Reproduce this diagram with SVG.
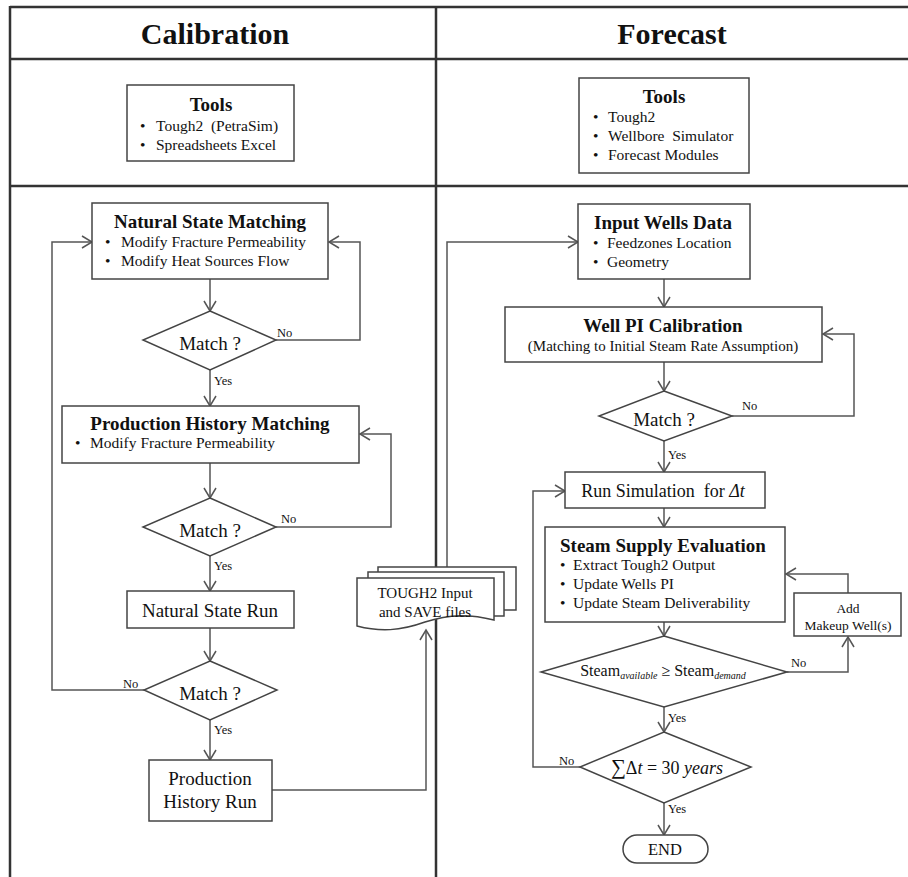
<svg xmlns="http://www.w3.org/2000/svg" width="908" height="877" viewBox="0 0 908 877">
<style>
text{font-family:"Liberation Serif","Times New Roman",serif;fill:#111;}
.ttl{font-size:30px;font-weight:bold;text-anchor:middle;}
.hd{font-size:19px;font-weight:bold;text-anchor:middle;}
.it{font-size:15.5px;}
.md{font-size:19px;text-anchor:middle;}
.sm{font-size:15px;text-anchor:middle;}
.lb{font-size:12.5px;}
.box{fill:#fff;stroke:#444;stroke-width:1.5;}
.frame{stroke:#333;stroke-width:2.5;fill:none;}
.con{fill:none;stroke:#555;stroke-width:1.5;}
.arr{fill:none;stroke:#555;stroke-width:1.5;marker-end:url(#ah);}
</style>
<defs>
<marker id="ah" markerUnits="userSpaceOnUse" markerWidth="14" markerHeight="14" refX="11" refY="7" orient="auto">
<path d="M1,1 L11,7 L1,13" fill="none" stroke="#555" stroke-width="1.5"/>
</marker>
</defs>
<rect width="908" height="877" fill="#fff"/>
<g id="frame">
<line class="frame" x1="10" y1="7" x2="908" y2="7"/>
<line class="frame" x1="10" y1="59" x2="908" y2="59"/>
<line class="frame" x1="10" y1="186" x2="908" y2="186"/>
<line class="frame" x1="10" y1="6" x2="10" y2="877"/>
<line class="frame" x1="436" y1="6" x2="436" y2="877"/>
<text class="ttl" x="215" y="44">Calibration</text>
<text class="ttl" x="672" y="44">Forecast</text>
</g>
<g id="connectors">
<line class="arr" x1="210" y1="279" x2="210" y2="311"/>
<polyline class="arr" points="276,340 360,340 360,242 329,242"/>
<line class="arr" x1="210" y1="370" x2="210" y2="406"/>
<line class="arr" x1="210" y1="463" x2="210" y2="498"/>
<polyline class="arr" points="276,527 391,527 391,434 360,434"/>
<line class="arr" x1="210" y1="556" x2="210" y2="591"/>
<line class="arr" x1="210" y1="628" x2="210" y2="661"/>
<polyline class="arr" points="144,690 52,690 52,242 92,242"/>
<line class="arr" x1="210" y1="720" x2="210" y2="760"/>
<polyline class="arr" points="272,790 426,790 426,630"/>
<polyline class="arr" points="447,567 447,242 578,242"/>
<line class="arr" x1="664" y1="279" x2="664" y2="307"/>
<line class="arr" x1="664" y1="362" x2="664" y2="391"/>
<polyline class="arr" points="732,416 854,416 854,334 823,334"/>
<line class="arr" x1="664" y1="440" x2="664" y2="472"/>
<line class="arr" x1="664" y1="508" x2="664" y2="527"/>
<line class="arr" x1="664" y1="622" x2="664" y2="636"/>
<polyline class="arr" points="848,593 848,574 786,574"/>
<polyline class="arr" points="787,672 848,672 848,637"/>
<line class="arr" x1="664" y1="707" x2="664" y2="732"/>
<polyline class="arr" points="580,767 533,767 533,491 565,491"/>
<line class="arr" x1="664" y1="803" x2="664" y2="835"/>
<text class="lb" x="277" y="337">No</text>
<text class="lb" x="214" y="385">Yes</text>
<text class="lb" x="281" y="523">No</text>
<text class="lb" x="214" y="570">Yes</text>
<text class="lb" x="123" y="688">No</text>
<text class="lb" x="214" y="734">Yes</text>
<text class="lb" x="742" y="410">No</text>
<text class="lb" x="668" y="459">Yes</text>
<text class="lb" x="791" y="667">No</text>
<text class="lb" x="668" y="722">Yes</text>
<text class="lb" x="559" y="765">No</text>
<text class="lb" x="668" y="813">Yes</text>
</g>
<g id="tools-cal">
<rect class="box" x="127" y="85" width="167" height="76"/>
<text class="hd" x="211" y="111">Tools</text>
<text class="it" x="140" y="131">•</text><text class="it" x="156" y="131">Tough2&#160; (PetraSim)</text>
<text class="it" x="140" y="150">•</text><text class="it" x="156" y="150">Spreadsheets Excel</text>
</g>
<g id="tools-fc">
<rect class="box" x="579" y="78" width="170" height="95"/>
<text class="hd" x="664" y="103">Tools</text>
<text class="it" x="593" y="122">•</text><text class="it" x="608" y="122">Tough2</text>
<text class="it" x="593" y="141">•</text><text class="it" x="608" y="141">Wellbore&#160; Simulator</text>
<text class="it" x="593" y="160">•</text><text class="it" x="608" y="160">Forecast Modules</text>
</g>
<g id="ns-matching">
<rect class="box" x="92" y="203" width="236" height="76"/>
<text class="hd" x="210" y="228">Natural State Matching</text>
<text class="it" x="105" y="247">•</text><text class="it" x="121" y="247">Modify Fracture Permeability</text>
<text class="it" x="105" y="266">•</text><text class="it" x="121" y="266">Modify Heat Sources Flow</text>
</g>
<g id="match1">
<polygon class="box" points="210,311 276,340 210,370 143,340"/>
<text class="md" x="210" y="350">Match ?</text>
</g>
<g id="ph-matching">
<rect class="box" x="62" y="406" width="297" height="57"/>
<text class="hd" x="210" y="430">Production History Matching</text>
<text class="it" x="75" y="448">•</text><text class="it" x="90" y="448">Modify Fracture Permeability</text>
</g>
<g id="match2">
<polygon class="box" points="210,498 276,527 210,556 143,527"/>
<text class="md" x="210" y="537">Match ?</text>
</g>
<g id="ns-run">
<rect class="box" x="127" y="591" width="167" height="37"/>
<text class="md" x="210" y="617">Natural State Run</text>
</g>
<g id="match3">
<polygon class="box" points="210,661 277,690 210,720 144,690"/>
<text class="md" x="210" y="700">Match ?</text>
</g>
<g id="ph-run">
<rect class="box" x="149" y="760" width="123" height="61"/>
<text class="md" x="210" y="785">Production</text>
<text class="md" x="210" y="808">History Run</text>
</g>
<g id="files">
<rect class="box" x="378" y="567" width="138" height="43"/>
<rect class="box" x="368" y="572" width="136" height="44"/>
<path class="box" d="M357,578 H494 V620 C470,614 450,614 425,622 C400,631 380,632 357,626 Z"/>
<text class="sm" x="425" y="598">TOUGH2 Input</text>
<text class="sm" x="425" y="617">and SAVE files</text>
</g>
<g id="input-wells">
<rect class="box" x="578" y="204" width="172" height="75"/>
<text class="hd" x="663" y="229">Input Wells Data</text>
<text class="it" x="593" y="248">•</text><text class="it" x="607" y="248">Feedzones Location</text>
<text class="it" x="593" y="267">•</text><text class="it" x="607" y="267">Geometry</text>
</g>
<g id="well-pi">
<rect class="box" x="505" y="307" width="317" height="55"/>
<text class="hd" x="663" y="332">Well PI Calibration</text>
<text class="sm" x="663" y="351">(Matching to Initial Steam Rate Assumption)</text>
</g>
<g id="match4">
<polygon class="box" points="664,391 732,416 664,441 599,416"/>
<text class="md" x="664" y="426">Match ?</text>
</g>
<g id="run-sim">
<rect class="box" x="565" y="472" width="200" height="36"/>
<text x="663" y="497" font-size="18" text-anchor="middle">Run Simulation&#160; for <tspan font-style="italic">Δt</tspan></text>
</g>
<g id="steam-eval">
<rect class="box" x="545" y="527" width="240" height="95"/>
<text class="hd" x="663" y="552">Steam Supply Evaluation</text>
<text class="it" x="560" y="570">•</text><text class="it" x="573" y="570">Extract Tough2 Output</text>
<text class="it" x="560" y="589">•</text><text class="it" x="573" y="589">Update Wells PI</text>
<text class="it" x="560" y="608">•</text><text class="it" x="573" y="608">Update Steam Deliverability</text>
</g>
<g id="makeup">
<rect class="box" x="794" y="593" width="107" height="43"/>
<text x="848" y="613" font-size="13.5" text-anchor="middle">Add</text>
<text x="848" y="630" font-size="13.5" text-anchor="middle">Makeup Well(s)</text>
</g>
<g id="steam-check">
<polygon class="box" points="664,636 787,672 664,707 541,672"/>
<text x="663" y="676" font-size="16" text-anchor="middle">Steam<tspan font-size="10" font-style="italic" dy="3">available</tspan><tspan dy="-3"> ≥ Steam</tspan><tspan font-size="10" font-style="italic" dy="3">demand</tspan></text>
</g>
<g id="time-check">
<polygon class="box" points="664,732 751,767 664,803 580,767"/>
<text x="667" y="774" font-size="18" text-anchor="middle"><tspan font-size="21">∑</tspan>Δ<tspan font-style="italic">t</tspan> = 30 <tspan font-style="italic">years</tspan></text>
</g>
<g id="end">
<rect class="box" x="623" y="835" width="85" height="28" rx="14"/>
<text x="665" y="855" font-size="16.5" text-anchor="middle">END</text>
</g>
</svg>
